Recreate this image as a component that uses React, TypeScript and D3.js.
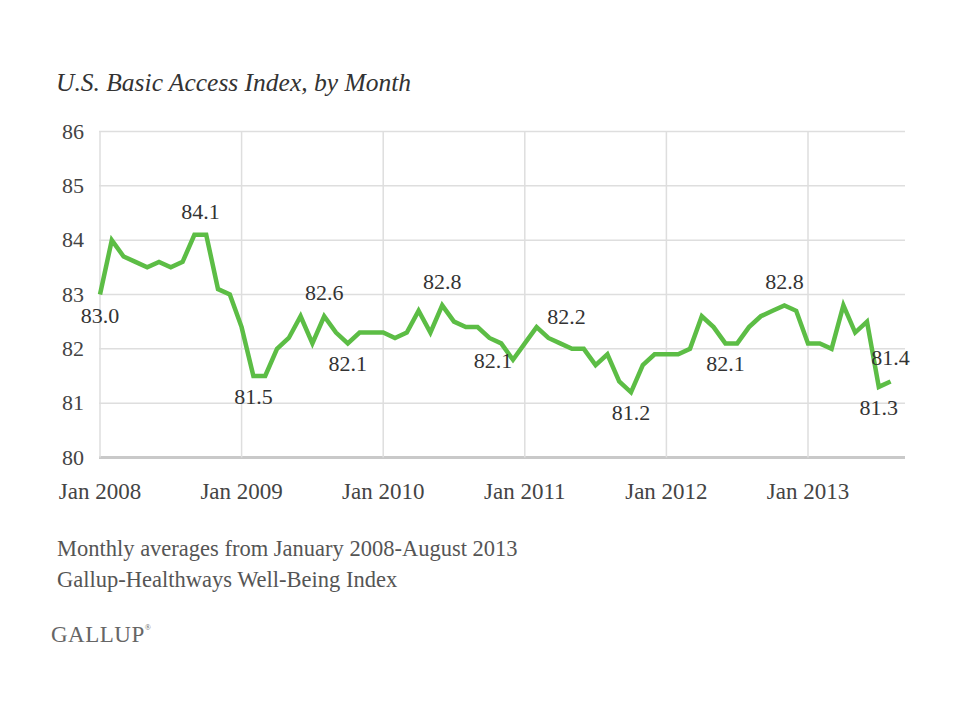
import React, { useRef, useEffect } from "react";
import * as d3 from "d3";

// Monthly values, Jan 2008 - Aug 2013
const values2008 = [83.0, 84.0, 83.7, 83.6, 83.5, 83.6, 83.5, 83.6, 84.1, 84.1, 83.1, 83.0];
const values2009 = [82.4, 81.5, 81.5, 82.0, 82.2, 82.6, 82.1, 82.6, 82.3, 82.1, 82.3, 82.3];
const values2010 = [82.3, 82.2, 82.3, 82.7, 82.3, 82.8, 82.5, 82.4, 82.4, 82.2, 82.1, 81.8];
const values2011 = [82.1, 82.4, 82.2, 82.1, 82.0, 82.0, 81.7, 81.9, 81.4, 81.2, 81.7, 81.9];
const values2012 = [81.9, 81.9, 82.0, 82.6, 82.4, 82.1, 82.1, 82.4, 82.6, 82.7, 82.8, 82.7];
const values2013 = [82.1, 82.1, 82.0, 82.8, 82.3, 82.5, 81.3, 81.4];

const series = [
  ...values2008,
  ...values2009,
  ...values2010,
  ...values2011,
  ...values2012,
  ...values2013,
];

const yearTickLabels = ["Jan 2008", "Jan 2009", "Jan 2010", "Jan 2011", "Jan 2012", "Jan 2013"];
const yTicks = [80, 81, 82, 83, 84, 85, 86];

// Labelled points: month index (0 = Jan 2008), text, placement
const annotations: { i: number; text: string; place: string }[] = [
  { i: 0, text: "83.0", place: "below" },
  { i: 8, text: "84.1", place: "aboveRight" },
  { i: 13, text: "81.5", place: "below" },
  { i: 19, text: "82.6", place: "above" },
  { i: 21, text: "82.1", place: "below" },
  { i: 29, text: "82.8", place: "above" },
  { i: 35, text: "82.1", place: "left" },
  { i: 37, text: "82.2", place: "right" },
  { i: 45, text: "81.2", place: "below" },
  { i: 53, text: "82.1", place: "below" },
  { i: 58, text: "82.8", place: "above" },
  { i: 67, text: "81.4", place: "above" },
  { i: 66, text: "81.3", place: "below" },
];

const title = "U.S. Basic Access Index, by Month";
const notes = [
  "Monthly averages from January 2008-August 2013",
  "Gallup-Healthways Well-Being Index",
];

const WIDTH = 960;
const HEIGHT = 720;
const FONT = "'Liberation Serif', 'DejaVu Serif', serif";

const offsets: Record<string, [number, number]> = {
  above: [0, -16],
  aboveRight: [6, -16],
  below: [0, 28],
  left: [-20, 8],
  right: [30, -3],
};

const App: React.FC = () => {
  const svgRef = useRef<SVGSVGElement>(null);

  useEffect(() => {
    if (!svgRef.current) return;
    const svg = d3.select(svgRef.current);
    svg.selectAll("*").remove();

    const left = 99;
    const right = 905;
    const top = 131.5;
    const bottom = 457.5;

    const x = d3
      .scaleLinear()
      .domain([0, series.length - 1])
      .range([100, 890.6]);

    const y = d3.scaleLinear().domain([80, 86]).range([bottom, top]);

    // Horizontal gridlines
    svg
      .append("g")
      .selectAll("line")
      .data(yTicks)
      .join("line")
      .attr("x1", left)
      .attr("x2", right)
      .attr("y1", (d) => y(d))
      .attr("y2", (d) => y(d))
      .attr("stroke", (d) => (d === 80 ? "#c9c9c9" : "#dedede"))
      .attr("stroke-width", (d) => (d === 80 ? 3 : 1.5));

    // Vertical gridlines at each January
    svg
      .append("g")
      .selectAll("line")
      .data(yearTickLabels)
      .join("line")
      .attr("x1", (_, k) => x(k * 12))
      .attr("x2", (_, k) => x(k * 12))
      .attr("y1", top)
      .attr("y2", bottom)
      .attr("stroke", "#dedede")
      .attr("stroke-width", 1.5);

    // Y tick labels
    svg
      .append("g")
      .selectAll("text")
      .data(yTicks)
      .join("text")
      .attr("x", 84)
      .attr("y", (d) => y(d) + 7)
      .attr("text-anchor", "end")
      .attr("font-family", FONT)
      .attr("font-size", 22)
      .attr("fill", "#444")
      .text((d) => d);

    // X tick labels
    svg
      .append("g")
      .selectAll("text")
      .data(yearTickLabels)
      .join("text")
      .attr("x", (_, k) => x(k * 12))
      .attr("y", 499)
      .attr("text-anchor", "middle")
      .attr("font-family", FONT)
      .attr("font-size", 23)
      .attr("fill", "#444")
      .text((d) => d);

    // Line
    const line = d3
      .line<number>()
      .x((_, i) => x(i))
      .y((d) => y(d));

    svg
      .append("path")
      .datum(series)
      .attr("fill", "none")
      .attr("stroke", "#5cbd45")
      .attr("stroke-width", 4.5)
      .attr("stroke-linejoin", "miter")
      .attr("d", line);

    // Data labels
    svg
      .append("g")
      .selectAll("text")
      .data(annotations)
      .join("text")
      .attr("x", (d) => x(d.i) + offsets[d.place][0])
      .attr("y", (d) => y(series[d.i]) + offsets[d.place][1])
      .attr("text-anchor", "middle")
      .attr("font-family", FONT)
      .attr("font-size", 22)
      .attr("fill", "#333")
      .text((d) => d.text);

    // Title
    svg
      .append("text")
      .attr("x", 56)
      .attr("y", 91)
      .attr("font-family", FONT)
      .attr("font-style", "italic")
      .attr("font-size", 25.5)
      .attr("fill", "#333")
      .text(title);

    // Notes
    svg
      .append("g")
      .selectAll("text")
      .data(notes)
      .join("text")
      .attr("x", 57)
      .attr("y", (_, k) => 556 + k * 31)
      .attr("font-family", FONT)
      .attr("font-size", 22.5)
      .attr("fill", "#555")
      .text((d) => d);

    // Gallup wordmark
    const brand = svg
      .append("text")
      .attr("x", 51)
      .attr("y", 642)
      .attr("font-family", FONT)
      .attr("font-size", 23)
      .attr("letter-spacing", 0.5)
      .attr("fill", "#666")
      .text("GALLUP");
    brand
      .append("tspan")
      .attr("font-size", 8)
      .attr("dy", -12)
      .text("®");
  }, []);

  return (
    <svg
      ref={svgRef}
      width={WIDTH}
      height={HEIGHT}
      style={{ position: "absolute", left: 0, top: 0, background: "#fff" }}
    />
  );
};

export default App;
